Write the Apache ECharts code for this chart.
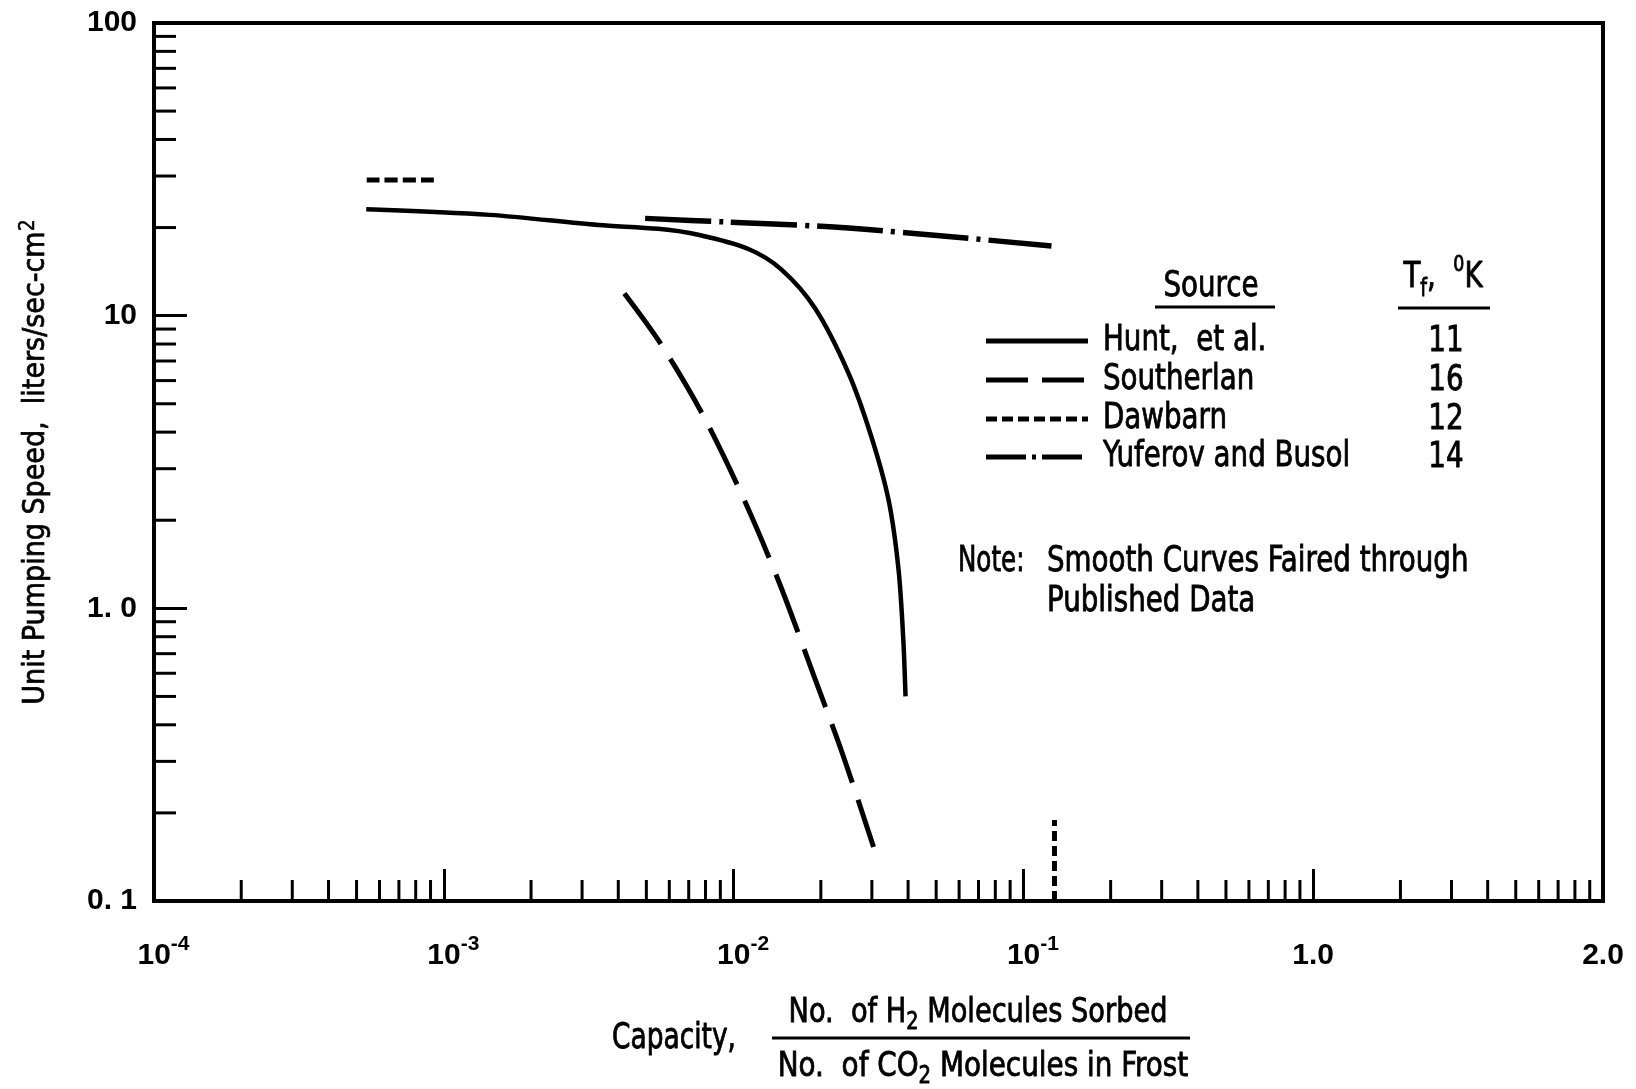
<!DOCTYPE html>
<html>
<head>
<meta charset="utf-8">
<script src="https://cdn.jsdelivr.net/npm/echarts@6/dist/echarts.min.js"></script>
<style>
html,body{margin:0;padding:0;background:#fff;}
#chart{width:1636px;height:1089px;}
</style>
</head>
<body>
<div id="chart"></div>
<script>
// ---------- data ----------
const huntX = [5.4e-4, 1.44e-3, 3.41e-3, 5.5e-3, 7.55e-3, 0.01125, 0.0146, 0.0191, 0.0249, 0.0299, 0.0343, 0.0371, 0.0385, 0.0392];
const huntY = [23.1, 22.1, 20.4, 19.8, 18.9, 16.9, 14.4, 10.6, 6.37, 3.85, 2.33, 1.35, 0.785, 0.50];

const southX = [4.2e-3, 5.64e-3, 7.87e-3, 0.011, 0.01453, 0.0189, 0.0239, 0.0304];
const southY = [11.9, 7.94, 4.54, 2.29, 1.19, 0.59, 0.313, 0.153];

const dawX = [5.42e-4, 9.33e-4];
const dawY = [29.1, 29.1];

const yufX = [4.95e-3, 9.38e-3, 0.02, 0.042, 0.125];
const yufY = [21.5, 20.9, 20.2, 19.1, 17.3];

const markX = [0.128, 0.128];
const markY = [0.1, 0.189];

// axis ticks / labels
const xMin = 1e-4, xMax = 10, yMin = 0.1, yMax = 100;
const xTickExp = [-4, -3, -2, -1, 0, 1];
const xTickBase = ['10', '10', '10', '10', '1.0', '2.0'];
const xTickSup = ['-4', '-3', '-2', '-1', '', ''];
const yTickExp = [-1, 0, 1, 2];
const yTickLabels = ['0. 1', '1. 0', '10', '100'];
const minorMant = [2, 3, 4, 5, 6, 7, 8, 9];
const xDecades = [1e-4, 1e-3, 1e-2, 1e-1, 1];
const yDecades = [0.1, 1, 10];

// legend content
const legendNames = ['Hunt,  et al.', 'Southerlan', 'Dawbarn', 'Yuferov and Busol'];
const legendTemps = ['11', '16', '12', '14'];
const noteLines = ['Smooth Curves Faired through', 'Published Data'];

// ---------- build ----------
const FONT = "'DejaVu Sans Condensed','DejaVu Sans',sans-serif";
const NUMFONT = "'Liberation Sans',Arial,sans-serif";
const zip = (a, b) => a.map((v, i) => [v, b[i]]);
const xMinor = [];
xDecades.forEach(d => minorMant.forEach(m => xMinor.push(m * d)));
const yMinor = [];
yDecades.forEach(d => minorMant.forEach(m => yMinor.push(m * d)));

const dashStyles = ['solid', [62, 18], [13, 5], [66, 8, 4, 8]];
const legendDash = [null, [42, 14], [11, 5], [40, 6, 4, 6]];

const chart = echarts.init(document.getElementById('chart'), null, {renderer: 'canvas'});

const lineSeries = (name, data, type, width) => ({
  name, type: 'line', data, showSymbol: false, symbol: 'none', smooth: 0.3,
  lineStyle: {color: '#000', width: width, type: type, cap: 'butt'},
  z: 5, silent: true
});

const baseStyle = (text, align) => ({text: text, fontFamily: FONT, fontSize: 35, fill: '#000', stroke: '#000', lineWidth: 0.8, align: align || 'left', verticalAlign: 'middle'});
const txt = (x, y, style, scaleX) => ({
  type: 'text', x: x, y: y, scaleX: scaleX || 0.88, originX: 0, originY: 0, style: style
});

const graphic = [];
// legend header
graphic.push(txt(1211, 287, baseStyle('Source', 'center')));
graphic.push({type: 'line', shape: {x1: 1155, y1: 307, x2: 1275, y2: 307}, style: {stroke: '#000', lineWidth: 3}});
graphic.push(txt(1443, 278, Object.assign(baseStyle('{t|T}{f|f}{t|,  }{o|0}{t|K}', 'center'), {
  rich: {
    t: {fontFamily: FONT, fontSize: 35, lineHeight: 48, verticalAlign: 'middle'},
    f: {fontFamily: FONT, fontSize: 24, verticalAlign: 'bottom'},
    o: {fontFamily: FONT, fontSize: 22, lineHeight: 32, verticalAlign: 'top'}
  }})));
graphic.push({type: 'line', shape: {x1: 1398, y1: 308, x2: 1490, y2: 308}, style: {stroke: '#000', lineWidth: 3}});
const rowY = [341, 380, 419, 457];
legendNames.forEach((n, i) => {
  const st = {stroke: '#000', lineWidth: 5};
  if (legendDash[i]) st.lineDash = legendDash[i];
  graphic.push({type: 'line', shape: {x1: 986, y1: rowY[i], x2: 1088, y2: rowY[i]}, style: st});
  graphic.push(txt(1103, rowY[i], baseStyle(n)));
  graphic.push(txt(1446, rowY[i] + 1, baseStyle(legendTemps[i], 'center')));
});
// note
graphic.push(txt(958, 562, baseStyle('Note:'), 0.78));
noteLines.forEach((t, i) => {
  graphic.push(txt(1047, 562 + i * 40, baseStyle(t)));
});
// x-axis title (fraction)
graphic.push(txt(612, 1039, baseStyle('Capacity,'), 0.84));
const fracRich = {
  a: {fontFamily: FONT, fontSize: 34, lineHeight: 44, verticalAlign: 'middle'},
  s: {fontFamily: FONT, fontSize: 24, verticalAlign: 'bottom'}
};
graphic.push(txt(978, 1013, Object.assign(baseStyle('{a|No.  of H}{s|2}{a| Molecules Sorbed}', 'center'), {rich: fracRich}), 0.89));
graphic.push({type: 'line', shape: {x1: 772, y1: 1038, x2: 1190, y2: 1038}, style: {stroke: '#000', lineWidth: 3}});
graphic.push(txt(983, 1067, Object.assign(baseStyle('{a|No.  of CO}{s|2}{a| Molecules in Frost}', 'center'), {rich: fracRich}), 0.91));

const option = {
  animation: false,
  backgroundColor: '#fff',
  grid: {left: 154, right: 33, top: 23, bottom: 188, show: true, borderColor: '#000', borderWidth: 4, backgroundColor: 'transparent'},
  xAxis: {
    type: 'log', logBase: 10, min: xMin, max: xMax,
    axisLine: {show: true, onZero: false, lineStyle: {color: '#000', width: 4}},
    axisTick: {show: true, inside: true, length: 32, lineStyle: {color: '#000', width: 3}},
    splitLine: {show: false},
    axisLabel: {
      margin: 33, color: '#000',
      formatter: v => {
        const i = xTickExp.indexOf(Math.round(Math.log10(v)));
        if (i < 0) return '';
        return xTickSup[i] ? '{p|}{b|' + xTickBase[i] + '}{s|' + xTickSup[i] + '}' : '{b|' + xTickBase[i] + '}';
      },
      rich: {
        p: {width: 19},
        b: {fontFamily: NUMFONT, fontSize: 30, fontWeight: 'bold', lineHeight: 44, verticalAlign: 'middle', color: '#000'},
        s: {fontFamily: NUMFONT, fontSize: 21, fontWeight: 'bold', verticalAlign: 'top', color: '#000'}
      }
    }
  },
  yAxis: {
    type: 'log', logBase: 10, min: yMin, max: yMax,
    axisLine: {show: true, onZero: false, lineStyle: {color: '#000', width: 4}},
    axisTick: {show: true, inside: true, length: 33, lineStyle: {color: '#000', width: 3}},
    splitLine: {show: false},
    axisLabel: {
      margin: 17, color: '#000', fontFamily: NUMFONT, fontSize: 30, fontWeight: 'bold',
      formatter: v => {
        const i = yTickExp.indexOf(Math.round(Math.log10(v)));
        return i < 0 ? '' : yTickLabels[i];
      }
    },
    name: '{a|Unit Pumping Speed,  liters/sec-cm}{s|2}',
    nameLocation: 'middle', nameGap: 100, nameRotate: 90,
    nameTextStyle: {
      color: '#000',
      rich: {
        a: {fontFamily: FONT, fontSize: 30, lineHeight: 36, verticalAlign: 'middle', color: '#000', textBorderColor: '#000', textBorderWidth: 0.7},
        s: {fontFamily: FONT, fontSize: 21, verticalAlign: 'top', color: '#000', textBorderColor: '#000', textBorderWidth: 0.5}
      }
    }
  },
  graphic: graphic,
  series: [
    lineSeries('Hunt, et al.', zip(huntX, huntY), dashStyles[0], 4.5),
    lineSeries('Southerlan', zip(southX, southY), dashStyles[1], 5),
    lineSeries('Dawbarn', zip(dawX, dawY), dashStyles[2], 5),
    lineSeries('Yuferov and Busol', zip(yufX, yufY), dashStyles[3], 5.5),
    Object.assign(lineSeries('marker', zip(markX, markY), [10, 5], 5), {smooth: false}),
    {
      type: 'custom', silent: true, z: 3, clip: false,
      data: xMinor.map(v => [v, yMin]),
      renderItem: (params, api) => {
        const p = api.coord([api.value(0), api.value(1)]);
        return {type: 'line', shape: {x1: p[0], y1: p[1], x2: p[0], y2: p[1] - 21}, style: {stroke: '#000', lineWidth: 3}};
      }
    },
    {
      type: 'custom', silent: true, z: 3, clip: false,
      data: yMinor.map(v => [xMin, v]),
      renderItem: (params, api) => {
        const p = api.coord([api.value(0), api.value(1)]);
        return {type: 'line', shape: {x1: p[0], y1: p[1], x2: p[0] + 22, y2: p[1]}, style: {stroke: '#000', lineWidth: 3}};
      }
    }
  ]
};
chart.setOption(option);
</script>
</body>
</html>
